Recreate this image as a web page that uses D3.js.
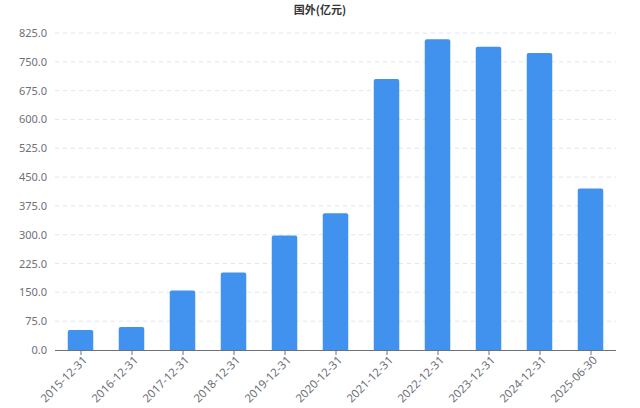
<!DOCTYPE html>
<html><head><meta charset="utf-8">
<script src="https://cdn.jsdelivr.net/npm/d3@7/dist/d3.min.js"></script>
<style>body{margin:0;background:#fff;}svg{display:block;font-family:"Noto Sans CJK SC","Noto Sans",sans-serif;}</style>
</head><body>
<svg id="c" width="640" height="408"></svg>
<script>
const title = "国外(亿元)";
const categories = ["2015-12-31","2016-12-31","2017-12-31","2018-12-31","2019-12-31","2020-12-31","2021-12-31","2022-12-31","2023-12-31","2024-12-31","2025-06-30"];
const values = [52, 60, 155, 202, 298, 356, 705, 809, 789, 773, 420];
const yTicks = [0, 75, 150, 225, 300, 375, 450, 525, 600, 675, 750, 825];

const svg = d3.select("#c");
const mLeft = 55, mRight = 616, mTop = 33, mBottom = 350;
const x = d3.scaleBand().domain(categories).range([mLeft, mRight]).paddingInner(0.5).paddingOuter(0.25);
const y = d3.scaleLinear().domain([0, 825]).range([mBottom, mTop]);

svg.append("text").attr("x", 320).attr("y", 14).attr("text-anchor", "middle")
  .attr("font-size", 11).attr("font-weight", "bold").attr("fill", "#333").text(title);

// grid
svg.append("g").selectAll("line").data(yTicks.filter(d => d > 0)).join("line")
  .attr("x1", mLeft).attr("x2", mRight).attr("y1", d => y(d)).attr("y2", d => y(d))
  .attr("stroke", "#e0e6f1").attr("stroke-dasharray", "4,4");

// y axis
const ya = svg.append("g").attr("transform", `translate(${mLeft},0)`)
  .call(d3.axisLeft(y).tickValues(yTicks).tickFormat(d3.format(".1f")).tickSize(0).tickPadding(8));
ya.select(".domain").remove();
ya.selectAll("text").attr("fill", "#6E7079").attr("font-size", 11).attr("font-family", "'Noto Sans','Noto Sans CJK SC',sans-serif");

// bars
const r = 2;
svg.append("g").selectAll("path").data(values).join("path")
  .attr("fill", "#4191EE")
  .attr("d", (d, i) => {
    const x0 = x(categories[i]), w = x.bandwidth(), y0 = y(d), y1 = y(0);
    return `M${x0},${y1}V${y0 + r}Q${x0},${y0} ${x0 + r},${y0}H${x0 + w - r}Q${x0 + w},${y0} ${x0 + w},${y0 + r}V${y1}Z`;
  });

// x axis
const xc = d3.scalePoint().domain(categories).range([x(categories[0]) + x.bandwidth()/2, x(categories[categories.length-1]) + x.bandwidth()/2]);
const xa = svg.append("g").attr("transform", `translate(0,${mBottom})`)
  .call(d3.axisBottom(xc).tickSize(5).tickPadding(4));
xa.select(".domain").attr("d", `M${mLeft},0.5H${mRight}`).attr("stroke", "#6E7079");
xa.selectAll(".tick line").attr("stroke", "#6E7079");
xa.selectAll("text").attr("fill", "#6E7079").attr("font-size", 11.5)
  .attr("font-family", "'Noto Sans','Noto Sans CJK SC',sans-serif")
  .attr("text-anchor", "end").attr("dy", "0.35em")
  .attr("transform", "translate(4,8) rotate(-45)").attr("y", 0).attr("x", 0);
</script>
</body></html>
